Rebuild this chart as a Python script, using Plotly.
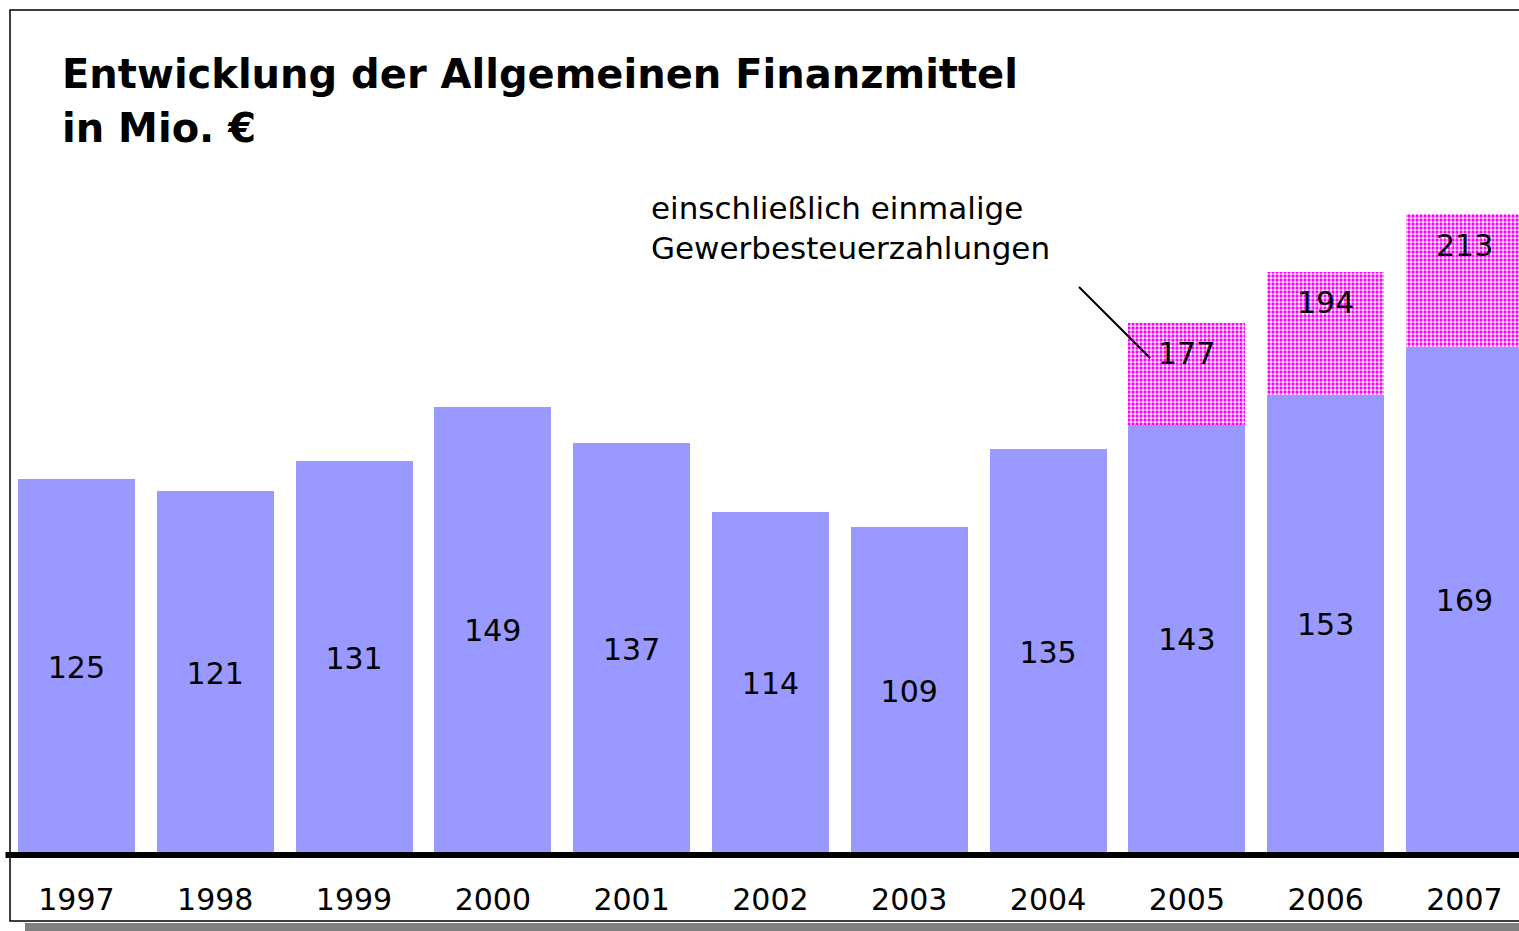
import plotly.graph_objects as go

years = ["1997", "1998", "1999", "2000", "2001", "2002", "2003", "2004", "2005", "2006", "2007"]
base_values = [125, 121, 131, 149, 137, 114, 109, 135, 143, 153, 169]
extra_years = ["2005", "2006", "2007"]
extra_values = [34, 41, 44]
totals = [177, 194, 213]

title_line1 = "Entwicklung der Allgemeinen Finanzmittel"
title_line2 = "in Mio. €"
note_text = "einschließlich einmalige<br>Gewerbesteuerzahlungen"

FONT = "DejaVu Sans"
BAR_COLOR = "#9999FF"

fig = go.Figure()
fig.add_trace(go.Bar(
    x=years, y=base_values,
    marker=dict(color=BAR_COLOR, line=dict(width=0)),
    text=[str(v) for v in base_values],
    textposition="inside", insidetextanchor="middle", textangle=0,
    textfont=dict(family=FONT, size=30, color="black"),
    hoverinfo="skip",
))
fig.add_trace(go.Bar(
    x=extra_years, y=extra_values,
    marker=dict(color="#FF00FF", line=dict(width=0),
                pattern=dict(shape=".", fgcolor="#FF00FF", bgcolor="#FFFFFF",
                             size=4, solidity=0.55, fillmode="replace")),
    hoverinfo="skip",
))

for yr, tot in zip(extra_years, totals):
    fig.add_annotation(x=years.index(yr), y=tot, text=str(tot), showarrow=False,
                       yanchor="middle", yshift=-31,
                       font=dict(family=FONT, size=30, color="black"))

# title lines
fig.add_annotation(xref="paper", yref="paper", x=(60 - 7) / 1512, y=(855 - 74) / 845,
                   text="<b>" + title_line1 + "</b>", showarrow=False,
                   xanchor="left", yanchor="middle",
                   font=dict(family=FONT, size=40, color="black"))
fig.add_annotation(xref="paper", yref="paper", x=(60 - 7) / 1512, y=(855 - 128) / 845,
                   text="<b>" + title_line2 + "</b>", showarrow=False,
                   xanchor="left", yanchor="middle",
                   font=dict(family=FONT, size=40, color="black"))

# note text
fig.add_annotation(xref="paper", yref="paper", x=(649 - 7) / 1512, y=(855 - 228) / 845,
                   text=note_text, showarrow=False, align="left",
                   xanchor="left", yanchor="middle",
                   font=dict(family=FONT, size=31, color="black"))

# pointer line
fig.add_shape(type="line", xref="x", yref="y", x0=7.223, y0=188.9, x1=7.735, y1=165.3,
              line=dict(color="black", width=2))

# baseline
fig.add_shape(type="line", xref="paper", yref="paper", x0=-0.001, x1=1.01, y0=0, y1=0,
              line=dict(color="black", width=6), layer="above")

# frame and shadow
fig.add_shape(type="rect", xref="paper", yref="paper",
              x0=(25 - 7) / 1512, x1=1.02, y0=(855 - 932) / 845, y1=(855 - 923) / 845,
              fillcolor="#808080", line=dict(width=0), layer="below")
fig.add_shape(type="rect", xref="paper", yref="paper",
              x0=(10 - 7) / 1512, x1=1.02, y0=(855 - 921) / 845, y1=(855 - 10) / 845,
              fillcolor="rgba(0,0,0,0)", line=dict(color="black", width=1.5))

fig.update_layout(
    width=1519, height=931,
    margin=dict(l=7, r=0, t=10, b=76, pad=0),
    paper_bgcolor="white", plot_bgcolor="white",
    barmode="stack", bargap=0.157,
    showlegend=False,
    font=dict(family=FONT, color="black"),
    xaxis=dict(type="category", range=[-0.5, 10.393], showgrid=False, zeroline=False,
               showline=False, ticks="", tickfont=dict(family=FONT, size=30, color="black"),
               ticklabelstandoff=24, fixedrange=True),
    yaxis=dict(range=[0, 281], visible=False, fixedrange=True),
)

fig.write_html("out.html", config={"displayModeBar": False},
               post_script="document.body.style.margin='0';document.body.style.overflow='hidden';")
